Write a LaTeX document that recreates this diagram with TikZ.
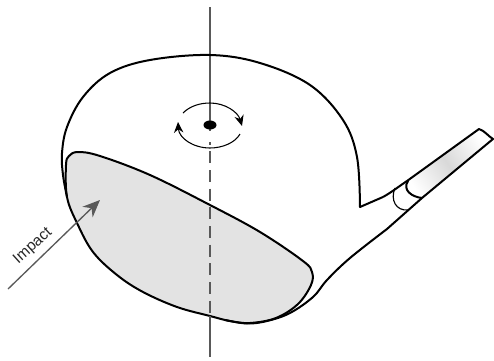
\documentclass[tikz,border=0pt]{standalone}
\usepackage{fontspec}
\setmainfont{Liberation Sans}
\usetikzlibrary{arrows.meta}
\definecolor{facegray}{gray}{0.89}
\definecolor{axisgray}{gray}{0.35}
\tikzset{
 px/.style={x=0.75pt,y=-0.75pt},
 outline/.style={line width=1.5pt,draw=black,line join=round},
 thinline/.style={line width=0.85pt,draw=black},
 axisline/.style={line width=0.8pt,draw=axisgray},
 rot/.style={line width=0.8pt,draw=black,-{Stealth[length=8pt,width=7pt]}},
 impactarrow/.style={line width=1pt,draw=axisgray,-{Stealth[length=13pt,width=11pt,fill=axisgray]}}
}
\begin{document}
\begin{tikzpicture}[px]
\useasboundingbox (0,0) rectangle (494,361);
\coordinate (axT) at (210,7);
\coordinate (axD0) at (210,131);
\coordinate (axD1) at (210,316);
\coordinate (axB) at (210,357);
\coordinate (impS) at (8,289);
\coordinate (impE) at (100,200);
% shaft fill
\fill[left color=white,right color=white,middle color=gray!30,shading angle=-55]
 (408,181) -- (479,129) .. controls (483,130) and (488,136) .. (493,139) -- (422,198)
 .. controls (412,197) and (402,190) .. (408,181) -- cycle;
% face
\path[fill=facegray,outline] plot[smooth cycle,tension=0.6] coordinates {
 (66,165) (69,156) (78,152) (100,156) (150,175) (210,205) (260,232) (303,261)
 (312,272) (311,285) (298,304) (276,318) (250,323) (230,321) (210,316) (177,307)
 (143,292) (117,275) (93,252) (77,223) (67,197)};
% axis
\draw[axisline] (axT) -- (axD0);
\draw[axisline,dash pattern=on 9pt off 5pt,dash phase=-7pt] (axD0) ++(0,11) -- (axD1);
\draw[axisline] (axD1) -- (axB);
% body
\draw[outline] (383,197) -- (360,207) -- plot[smooth,tension=0.6] coordinates {
 (360,207) (357,157) (343,120) (310,85) (260,63) (210,55) (150,60) (110,73)
 (83,97) (67,127) (62,153) (63,175) (67,197)};
\draw[outline] plot[smooth,tension=0.6] coordinates {
 (225,320) (247,323.5) (267,321) (290,313) (313,297) (327,280) (350,258) (387,229)}
 -- (422,198) -- (493,139)
 .. controls (488,136) and (485,131) .. (479,129)
 -- (407,181) .. controls (398,187) and (392,192) .. (383,197);
\draw[outline] (408,181) .. controls (402,190) and (412,197) .. (422,198);
\draw[thinline] (395,188) .. controls (390,200) and (396,211) .. (408,210);
% dot and rotation
\fill (210,125) ellipse [x radius=6.5,y radius=4.5];
\draw[rot] (183,113) .. controls (190,106) and (200,103) .. (210,103)
 .. controls (225,103) and (238,112) .. (242,126);
\draw[rot] (240,134) .. controls (235,143) and (222,148) .. (210,148)
 .. controls (193,148) and (179,138) .. (178,122);
% impact
\draw[impactarrow] (impS) -- (impE);
\node[rotate=42,font=\fontsize{11.5pt}{13pt}\selectfont,text=black!85,inner sep=0pt] (impactlabel) at (33,246) {Impact};
\end{tikzpicture}
\end{document}
